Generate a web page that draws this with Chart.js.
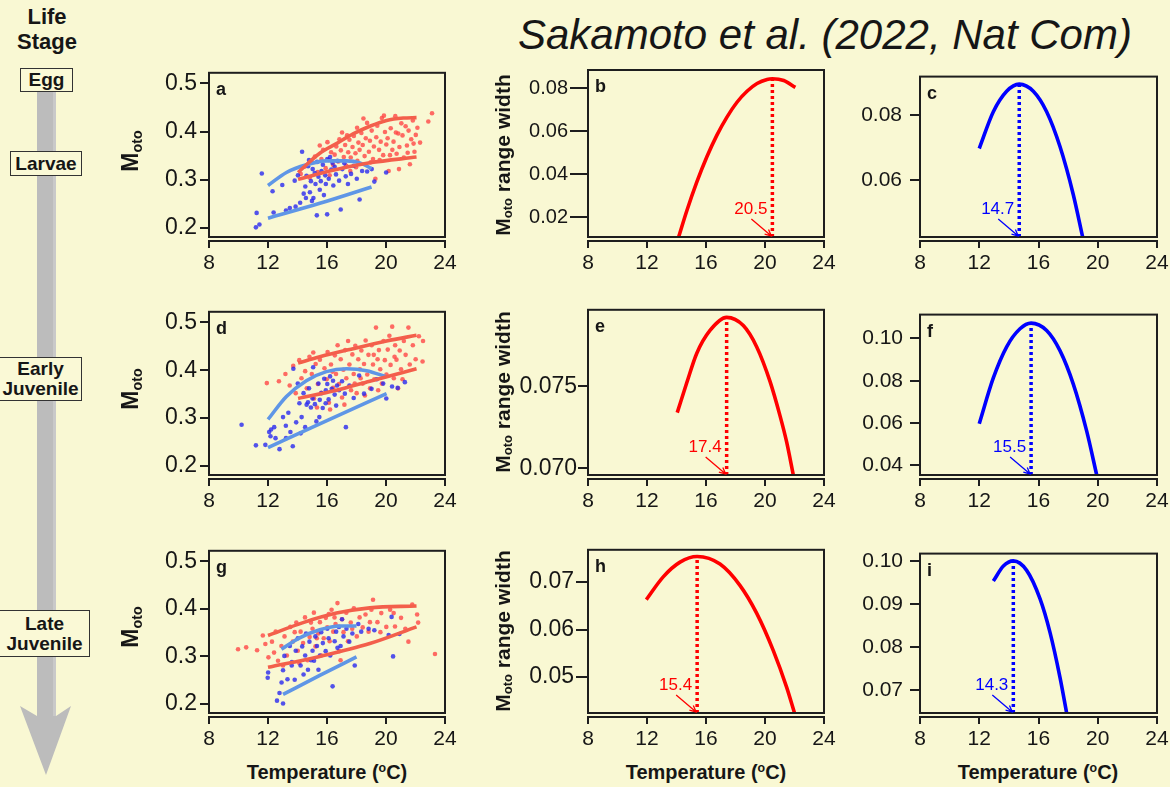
<!DOCTYPE html>
<html>
<head>
<meta charset="utf-8">
<title>Moto and temperature by life stage</title>
<script src="https://cdn.jsdelivr.net/npm/chart.js"></script>
<style>
  body { margin: 0; background: #f9f8d3; }
  #fig { position: relative; width: 1170px; height: 787px; overflow: hidden; background: #f9f8d3;
         font-family: 'Liberation Sans', Arial, sans-serif; color: #161616; }
  #fig canvas { position: absolute; }
  .ylab { position: absolute; white-space: nowrap; font-weight: bold; font-size: 21px;
          transform: translate(-50%, -50%) rotate(-90deg); }
  .ylab.big { font-size: 23px; }
  .ylab sub { font-size: 0.62em; vertical-align: -0.22em; }
  .xlab { position: absolute; white-space: nowrap; font-weight: bold; font-size: 20px;
          transform: translate(-50%, -50%); }
  .xlab sup { font-size: 0.62em; vertical-align: 0.55em; line-height: 0; }
  .title { position: absolute; left: 518px; top: 14px; font-size: 42px; font-style: italic;
           line-height: 1; white-space: nowrap; }
  .life { position: absolute; left: 0; top: 4px; width: 94px; text-align: center;
          font-weight: bold; font-size: 22px; line-height: 25px; }
  .stage { position: absolute; box-sizing: border-box; border: 1.5px solid #333; background: #faf9d6;
           font-weight: bold; font-size: 19px; line-height: 20px; text-align: center;
           display: flex; align-items: center; justify-content: center; z-index: 2; }
  #arrow { position: absolute; left: 0; top: 0; z-index: 1; }
</style>
</head>
<body>
<div id="fig">
  <svg id="arrow" width="100" height="787">
    <rect x="37" y="90" width="19" height="626" fill="#bcbcbc"/>
    <rect x="53" y="90" width="3" height="626" fill="#c9c9c9"/>
    <polygon points="37,716 20,706 46,775 71,706 56,716" fill="#bcbcbc"/>
  </svg>
  <div class="life">Life<br>Stage</div>
  <div class="stage" style="left:20px;top:68px;width:53px;height:24px;">Egg</div>
  <div class="stage" style="left:10px;top:151px;width:72px;height:25px;">Larvae</div>
  <div class="stage" style="left:-1px;top:357px;width:83px;height:44px;">Early<br>Juvenile</div>
  <div class="stage" style="left:-1px;top:610px;width:91px;height:47px;">Late<br>Juvenile</div>
  <div class="title">Sakamoto et al. (2022, Nat Com)</div>
</div>

<script>
// axis ticks
const tempTicks = [8, 12, 16, 20, 24];
const motoTicks = [0.2, 0.3, 0.4, 0.5];
const widthTicksB = [0.02, 0.04, 0.06, 0.08];
const widthTicksC = [0.06, 0.08];
const widthTicksE = [0.070, 0.075];
const widthTicksF = [0.04, 0.06, 0.08, 0.10];
const widthTicksH = [0.05, 0.06, 0.07];
const widthTicksI = [0.07, 0.08, 0.09, 0.10];

// Larvae: Moto observations [temperature, Moto]
const larvaeRed = [[14.22,0.312],[14.47,0.327],[14.83,0.304],[14.95,0.336],[15.18,0.348],[15.37,0.316],[15.62,0.343],[15.74,0.362],[15.91,0.324],[16.03,0.378],[16.12,0.341],[16.28,0.357],[16.41,0.331],[16.52,0.352],[16.63,0.369],[16.77,0.338],[16.94,0.361],[17.02,0.398],[17.14,0.347],[17.23,0.372],[17.31,0.329],[17.44,0.357],[17.52,0.383],[17.61,0.346],[17.73,0.368],[17.82,0.391],[17.93,0.355],[18.04,0.408],[18.06,0.339],[18.13,0.377],[18.21,0.362],[18.33,0.397],[18.42,0.372],[18.55,0.349],[18.63,0.386],[18.72,0.418],[18.84,0.358],[18.91,0.381],[19.03,0.402],[19.12,0.343],[19.18,0.369],[19.34,0.388],[19.41,0.412],[19.53,0.362],[19.64,0.379],[19.72,0.428],[19.81,0.351],[19.93,0.399],[20.02,0.373],[20.11,0.386],[20.18,0.318],[20.32,0.407],[20.43,0.362],[20.51,0.379],[20.63,0.432],[20.72,0.354],[20.83,0.396],[20.91,0.368],[21.04,0.417],[21.12,0.392],[21.21,0.346],[21.33,0.411],[21.42,0.371],[21.53,0.402],[21.62,0.332],[21.71,0.384],[21.82,0.423],[21.93,0.358],[22.02,0.393],[22.13,0.408],[22.31,0.377],[22.87,0.421],[23.12,0.438],[19.28,0.302],[20.88,0.322],[16.18,0.309],[17.58,0.318],[18.47,0.427],[19.86,0.433],[17.36,0.392],[16.84,0.384],[20.27,0.351],[21.47,0.356],[18.96,0.336],[17.97,0.326],[15.51,0.371],[19.57,0.341],[20.67,0.398],[21.87,0.375]];
const larvaeBlue = [[11.18,0.201],[11.42,0.207],[11.23,0.231],[11.58,0.313],[12.31,0.276],[12.38,0.232],[12.97,0.289],[13.22,0.236],[13.48,0.241],[13.87,0.244],[14.18,0.252],[14.31,0.358],[14.42,0.271],[14.53,0.286],[14.61,0.308],[14.72,0.328],[14.84,0.274],[14.91,0.297],[15.03,0.322],[15.08,0.262],[15.22,0.291],[15.31,0.226],[15.33,0.337],[15.42,0.306],[15.51,0.279],[15.63,0.318],[15.72,0.331],[15.79,0.268],[15.88,0.309],[16.01,0.228],[16.02,0.343],[16.12,0.302],[16.21,0.347],[16.29,0.321],[16.43,0.288],[16.52,0.327],[16.61,0.311],[16.82,0.298],[16.93,0.238],[17.04,0.322],[17.18,0.334],[17.42,0.291],[17.63,0.312],[17.81,0.329],[18.02,0.302],[18.21,0.259],[18.38,0.318],[18.72,0.317],[19.03,0.322],[19.21,0.296],[20.01,0.315],[14.03,0.309],[14.57,0.262],[14.98,0.256],[13.81,0.298],[15.17,0.314],[15.92,0.291],[16.37,0.335],[14.78,0.341],[15.58,0.297],[16.71,0.339],[17.27,0.307]];
// Larvae: upper / lower fitted Moto limits
const larvaeRedUpper = [[14.04,0.315],[15.51,0.355],[16.64,0.375],[17.77,0.395],[18.9,0.411],[20.04,0.423],[21.17,0.428],[22.07,0.429]];
const larvaeRedLower = [[14.04,0.301],[16.64,0.321],[18.9,0.335],[22.07,0.347]];
const larvaeBlueUpper = [[12.0,0.288],[13.25,0.315],[14.6,0.331],[15.96,0.339],[17.32,0.339],[18.23,0.335],[19.02,0.323]];
const larvaeBlueLower = [[12.0,0.220],[15.51,0.251],[19.02,0.285]];

// Early juvenile
const earlyRed = [[11.92,0.373],[12.74,0.377],[13.18,0.392],[13.47,0.368],[13.71,0.409],[13.88,0.352],[14.12,0.421],[14.27,0.383],[14.52,0.398],[14.63,0.362],[14.81,0.428],[14.97,0.392],[15.12,0.341],[15.23,0.413],[15.38,0.371],[15.52,0.422],[15.61,0.353],[15.83,0.404],[15.98,0.381],[16.04,0.438],[16.13,0.332],[16.27,0.412],[16.42,0.363],[16.53,0.431],[16.61,0.392],[16.72,0.452],[16.81,0.371],[16.93,0.423],[17.02,0.343],[17.11,0.401],[17.23,0.442],[17.31,0.383],[17.43,0.461],[17.52,0.412],[17.63,0.358],[17.72,0.433],[17.81,0.392],[17.92,0.451],[18.01,0.352],[18.12,0.423],[18.23,0.402],[18.33,0.441],[18.42,0.372],[18.51,0.413],[18.62,0.462],[18.73,0.391],[18.81,0.432],[18.92,0.362],[19.03,0.452],[19.12,0.412],[19.21,0.381],[19.32,0.489],[19.43,0.423],[19.52,0.442],[19.61,0.402],[19.72,0.372],[19.83,0.461],[19.92,0.421],[20.03,0.391],[20.12,0.443],[20.23,0.472],[20.31,0.411],[20.42,0.491],[20.53,0.383],[20.62,0.452],[20.71,0.422],[20.82,0.362],[20.93,0.441],[21.02,0.402],[21.21,0.461],[21.33,0.432],[21.52,0.489],[21.61,0.412],[21.82,0.452],[22.01,0.423],[22.23,0.471],[22.51,0.461],[22.48,0.418],[15.32,0.322],[16.21,0.318],[17.18,0.328],[18.57,0.347],[19.47,0.358],[17.88,0.372],[16.37,0.397],[15.07,0.437],[21.12,0.381],[20.58,0.428],[19.17,0.432],[18.28,0.383]];
const earlyBlue = [[10.21,0.286],[11.18,0.243],[11.82,0.244],[12.08,0.271],[12.21,0.276],[12.17,0.262],[12.42,0.281],[12.78,0.235],[13.02,0.302],[13.21,0.284],[13.38,0.311],[13.52,0.271],[13.68,0.241],[13.72,0.403],[13.91,0.291],[14.02,0.372],[14.13,0.331],[14.28,0.302],[14.41,0.352],[14.52,0.281],[14.62,0.328],[14.78,0.362],[14.91,0.322],[15.02,0.341],[15.06,0.406],[15.18,0.329],[15.28,0.293],[15.42,0.372],[15.51,0.338],[15.62,0.352],[15.71,0.321],[15.81,0.382],[15.92,0.358],[16.02,0.371],[16.11,0.339],[16.21,0.387],[16.32,0.361],[16.41,0.378],[16.52,0.349],[16.68,0.368],[16.82,0.358],[17.02,0.377],[17.21,0.351],[17.28,0.281],[17.52,0.368],[17.81,0.342],[18.18,0.389],[18.51,0.351],[19.02,0.361],[19.38,0.381],[19.81,0.372],[20.02,0.341],[20.41,0.366],[20.79,0.363],[21.28,0.375],[15.48,0.302],[14.22,0.268],[14.71,0.333],[15.91,0.331],[16.62,0.326],[13.22,0.258],[12.51,0.258]];
const earlyRedUpper = [[14.04,0.415],[15.51,0.428],[17.77,0.445],[20.04,0.461],[22.07,0.473]];
const earlyRedLower = [[14.04,0.341],[16.64,0.358],[18.9,0.377],[22.07,0.403]];
const earlyBlueUpper = [[12.0,0.297],[13.25,0.345],[14.6,0.378],[15.96,0.397],[17.32,0.403],[18.68,0.399],[20.04,0.386]];
const earlyBlueLower = [[12.0,0.238],[15.51,0.288],[20.04,0.351]];

// Late juvenile
const lateRed = [[9.97,0.315],[10.52,0.319],[11.26,0.313],[11.65,0.344],[11.82,0.326],[12.03,0.298],[12.27,0.331],[12.52,0.352],[12.68,0.291],[12.91,0.322],[13.12,0.342],[13.28,0.302],[13.51,0.362],[13.68,0.331],[13.92,0.371],[14.02,0.312],[14.21,0.352],[14.38,0.328],[14.51,0.382],[14.68,0.292],[14.82,0.341],[15.02,0.358],[15.11,0.392],[15.22,0.321],[15.41,0.348],[15.52,0.372],[15.61,0.302],[15.78,0.338],[15.92,0.381],[16.02,0.361],[16.18,0.332],[16.31,0.398],[16.42,0.352],[16.58,0.368],[16.71,0.412],[16.82,0.311],[17.02,0.378],[17.12,0.351],[17.31,0.392],[17.42,0.332],[17.61,0.371],[17.82,0.401],[18.02,0.342],[18.21,0.382],[18.42,0.361],[18.61,0.388],[18.82,0.352],[19.01,0.398],[19.12,0.419],[19.42,0.372],[19.68,0.391],[20.02,0.362],[20.28,0.398],[20.61,0.363],[21.02,0.381],[21.52,0.331],[21.78,0.409],[22.11,0.388],[22.18,0.371],[23.32,0.305],[13.02,0.281],[14.12,0.286],[16.92,0.292],[12.41,0.308],[13.81,0.351],[15.31,0.338],[16.51,0.382],[17.71,0.358],[18.91,0.372],[20.52,0.391],[21.31,0.358],[14.91,0.371],[16.12,0.389],[19.62,0.351]];
const lateBlue = [[12.01,0.266],[11.98,0.255],[12.61,0.207],[13.02,0.201],[12.78,0.223],[12.92,0.245],[13.11,0.301],[13.02,0.271],[13.32,0.252],[13.48,0.322],[13.62,0.288],[13.81,0.251],[13.88,0.312],[14.02,0.338],[14.21,0.281],[14.32,0.321],[14.52,0.302],[14.58,0.348],[14.71,0.272],[14.81,0.331],[15.02,0.312],[15.12,0.291],[15.21,0.342],[15.32,0.322],[15.52,0.302],[15.61,0.351],[15.72,0.328],[15.91,0.311],[16.02,0.358],[16.11,0.338],[16.22,0.302],[16.38,0.237],[16.52,0.332],[16.62,0.352],[16.81,0.362],[16.92,0.322],[17.02,0.378],[17.12,0.342],[17.32,0.358],[17.51,0.331],[17.72,0.348],[17.88,0.281],[18.12,0.368],[18.32,0.352],[18.82,0.358],[19.21,0.355],[20.18,0.345],[20.38,0.383],[20.48,0.300],[20.91,0.347],[14.41,0.262],[15.42,0.272],[13.61,0.281],[14.92,0.292],[16.71,0.318]];
const lateRedUpper = [[12.0,0.344],[14.38,0.371],[16.64,0.391],[18.9,0.402],[22.07,0.406]];
const lateRedLower = [[12.0,0.277],[15.51,0.300],[18.9,0.327],[22.07,0.362]];
const lateBlueUpper = [[12.91,0.315],[14.15,0.339],[15.51,0.356],[16.87,0.364],[18.0,0.364]];
const lateBlueLower = [[13.02,0.220],[15.51,0.260],[18.0,0.299]];

// Moto range width against temperature, with the temperature of the maximum
const widthB = [[14.15,0.011],[14.70,0.0231],[15.38,0.0365],[16.06,0.0482],[16.74,0.0583],[17.42,0.0667],[18.10,0.0736],[18.78,0.0787],[19.46,0.0823],[20.14,0.0842],[20.5,0.0845],[21.27,0.0837],[22.06,0.0805]];
const widthC = [[12.0,0.0698],[12.95,0.0811],[13.85,0.0874],[14.7,0.0896],[15.65,0.0874],[16.55,0.0811],[17.45,0.0704],[18.35,0.0556],[18.98,0.0426]];
const widthE = [[14.05,0.0734],[14.69,0.0752],[15.37,0.0770],[16.27,0.0784],[17.4,0.0792],[18.53,0.0787],[19.44,0.0774],[20.34,0.0753],[21.02,0.0732],[21.47,0.0716],[21.92,0.0696]];
const widthF = [[12.0,0.0597],[12.95,0.0813],[13.85,0.0960],[14.75,0.1045],[15.5,0.1072],[16.55,0.1037],[17.45,0.0942],[18.35,0.0784],[19.25,0.0563],[19.93,0.0355]];
const widthH = [[11.95,0.0663],[13.1,0.0711],[14.24,0.0742],[15.4,0.0754],[16.95,0.0738],[18.3,0.0693],[19.44,0.0634],[20.57,0.0555],[21.47,0.0478],[22.0,0.0424]];
const widthI = [[12.95,0.0953],[13.63,0.0988],[14.3,0.1000],[15.2,0.0978],[16.1,0.0912],[16.78,0.0833],[17.45,0.0729],[17.9,0.0646]];
const peakB = [20.5, 0.0845];
const peakC = [14.7, 0.0896];
const peakE = [17.4, 0.0792];
const peakF = [15.5, 0.1072];
const peakH = [15.4, 0.0754];
const peakI = [14.3, 0.1000];

const FONT = "'Liberation Sans', Arial, sans-serif";
const INK = '#161616';
const dotRed = 'rgba(255,70,70,0.8)', dotBlue = 'rgba(40,40,240,0.8)';
const fitRed = 'rgb(243,95,75)', fitBlue = 'rgb(95,150,230)';
const RED = '#ff0000', BLUE = '#0000ff';

// plot box placement on the page
const colLeft = [209, 588, 920], colWidth = [236, 236, 237];
const rowTop = [66, 305, 544], rowHeight = [171, 170, 169];
const PAD_L = 74, PAD_T = 10, PAD_R = 16, PAD_B = 45;

Chart.defaults.font.family = FONT;
Chart.defaults.color = INK;

// draws the box, y ticks, a detached x axis, the panel letter and the peak note
const framePlugin = {
  id: 'frame',
  afterDraw(chart, args, opts) {
    const { ctx, chartArea: a, scales: { x, y } } = chart;
    ctx.save();
    ctx.strokeStyle = '#1e1e1e';
    ctx.lineWidth = 2;
    ctx.strokeRect(a.left, a.top, a.right - a.left, a.bottom - a.top);
    ctx.beginPath();
    y.ticks.forEach(t => {
      const py = Math.round(y.getPixelForValue(t.value));
      ctx.moveTo(a.left - opts.tickLen, py);
      ctx.lineTo(a.left, py);
    });
    const ay = a.bottom + 4;
    ctx.moveTo(x.getPixelForValue(tempTicks[0]), ay);
    ctx.lineTo(x.getPixelForValue(tempTicks[tempTicks.length - 1]), ay);
    x.ticks.forEach(t => {
      const px = Math.round(x.getPixelForValue(t.value));
      ctx.moveTo(px, ay - 1);
      ctx.lineTo(px, ay + 7);
    });
    ctx.stroke();

    ctx.fillStyle = INK;
    ctx.font = 'bold 18px ' + FONT;
    ctx.textBaseline = 'alphabetic';
    ctx.fillText(opts.letter, a.left + 7, a.top + 22);

    if (opts.peak) {
      const px = x.getPixelForValue(opts.peak[0]);
      const b = a.bottom;
      ctx.fillStyle = opts.color;
      ctx.strokeStyle = opts.color;
      ctx.font = '17px ' + FONT;
      ctx.textAlign = 'right';
      ctx.fillText(opts.peak[0].toFixed(1), px - 5, b - 23);
      // arrow pointing at the axis
      const x0 = px - 21, y0 = b - 18, x1 = px - 1, y1 = b - 1;
      const ang = Math.atan2(y1 - y0, x1 - x0);
      ctx.lineWidth = 1.3;
      ctx.beginPath();
      ctx.moveTo(x0, y0);
      ctx.lineTo(x1, y1);
      ctx.moveTo(x1 - 7 * Math.cos(ang - 0.45), y1 - 7 * Math.sin(ang - 0.45));
      ctx.lineTo(x1, y1);
      ctx.lineTo(x1 - 7 * Math.cos(ang + 0.45), y1 - 7 * Math.sin(ang + 0.45));
      ctx.stroke();
    }
    ctx.restore();
  }
};

function curve(data, color, width) {
  return { data, showLine: true, borderColor: color, borderWidth: width, pointRadius: 0,
           cubicInterpolationMode: 'monotone', fill: false, clip: 0 };
}
function dots(data, color) {
  return { data, showLine: false, pointRadius: 2.3, pointBorderWidth: 0,
           backgroundColor: color, borderColor: color };
}

function makePanel(p) {
  const w = colWidth[p.col] + PAD_L + PAD_R, h = rowHeight[p.row] + PAD_T + PAD_B;
  const cv = document.createElement('canvas');
  cv.width = w; cv.height = h;
  cv.style.left = (colLeft[p.col] - PAD_L) + 'px';
  cv.style.top = (rowTop[p.row] - PAD_T) + 'px';
  document.getElementById('fig').appendChild(cv);

  let datasets;
  if (p.red) {
    datasets = [
      curve(p.fits[0], fitRed, 3.6), curve(p.fits[1], fitRed, 3.6),
      curve(p.fits[2], fitBlue, 3.6), curve(p.fits[3], fitBlue, 3.6),
      dots(p.blue, dotBlue), dots(p.red, dotRed)
    ];
  } else {
    const dotted = curve([[p.peak[0], p.yMin], p.peak], p.color, 3.5);
    dotted.borderDash = [3, 3];
    dotted.cubicInterpolationMode = 'default';
    datasets = [curve(p.width, p.color, 3.6), dotted];
  }

  new Chart(cv, {
    type: 'scatter',
    data: { datasets },
    plugins: [framePlugin],
    options: {
      responsive: false,
      animation: false,
      events: [],
      layout: { padding: { left: 0, top: PAD_T, right: PAD_R, bottom: 0 } },
      plugins: {
        legend: { display: false },
        tooltip: { enabled: false },
        frame: { letter: p.id, peak: p.peak, color: p.color, tickLen: p.tickLen }
      },
      scales: {
        x: {
          type: 'linear', min: 8, max: 24,
          afterBuildTicks: s => { s.ticks = tempTicks.map(v => ({ value: v })); },
          afterFit: s => { s.height = PAD_B; },
          grid: { display: false, drawTicks: true, tickLength: 10 },
          border: { display: false },
          ticks: { font: { size: 21 }, padding: 4, autoSkip: false, maxRotation: 0 }
        },
        y: {
          type: 'linear', min: p.yMin, max: p.yMax,
          afterBuildTicks: s => { s.ticks = p.yTicks.map(v => ({ value: v })); },
          afterFit: s => { s.width = PAD_L; },
          grid: { display: false, drawTicks: true, tickLength: p.tickLen },
          border: { display: false },
          ticks: { font: { size: p.tickSize }, padding: p.gap - p.tickLen, autoSkip: false,
                   callback: v => v.toFixed(p.dec) }
        }
      }
    }
  });
}

const panels = [
  { id: 'a', col: 0, row: 0, yMin: 0.181, yMax: 0.522, yTicks: motoTicks, dec: 1, tickSize: 23, tickLen: 9, gap: 12,
    red: larvaeRed, blue: larvaeBlue, fits: [larvaeRedUpper, larvaeRedLower, larvaeBlueUpper, larvaeBlueLower] },
  { id: 'd', col: 0, row: 1, yMin: 0.181, yMax: 0.522, yTicks: motoTicks, dec: 1, tickSize: 23, tickLen: 9, gap: 12,
    red: earlyRed, blue: earlyBlue, fits: [earlyRedUpper, earlyRedLower, earlyBlueUpper, earlyBlueLower] },
  { id: 'g', col: 0, row: 2, yMin: 0.181, yMax: 0.522, yTicks: motoTicks, dec: 1, tickSize: 23, tickLen: 9, gap: 12,
    red: lateRed, blue: lateBlue, fits: [lateRedUpper, lateRedLower, lateBlueUpper, lateBlueLower] },
  { id: 'b', col: 1, row: 0, yMin: 0.0109, yMax: 0.0886, yTicks: widthTicksB, dec: 2, tickSize: 20, tickLen: 18, gap: 20,
    width: widthB, peak: peakB, color: RED },
  { id: 'e', col: 1, row: 1, yMin: 0.0696, yMax: 0.07966, yTicks: widthTicksE, dec: 3, tickSize: 23, tickLen: 10, gap: 11,
    width: widthE, peak: peakE, color: RED },
  { id: 'h', col: 1, row: 2, yMin: 0.0424, yMax: 0.0768, yTicks: widthTicksH, dec: 2, tickSize: 23, tickLen: 12, gap: 14,
    width: widthH, peak: peakH, color: RED },
  { id: 'c', col: 2, row: 0, yMin: 0.0426, yMax: 0.0919, yTicks: widthTicksC, dec: 2, tickSize: 21, tickLen: 10, gap: 18,
    width: widthC, peak: peakC, color: BLUE },
  { id: 'f', col: 2, row: 1, yMin: 0.0355, yMax: 0.1112, yTicks: widthTicksF, dec: 2, tickSize: 21, tickLen: 10, gap: 17,
    width: widthF, peak: peakF, color: BLUE },
  { id: 'i', col: 2, row: 2, yMin: 0.0646, yMax: 0.1017, yTicks: widthTicksI, dec: 2, tickSize: 21, tickLen: 10, gap: 17,
    width: widthI, peak: peakI, color: BLUE }
];
panels.forEach(makePanel);

// axis titles
const fig = document.getElementById('fig');
function addLabel(cls, html, x, y) {
  const d = document.createElement('div');
  d.className = cls;
  d.innerHTML = html;
  d.style.left = x + 'px';
  d.style.top = y + 'px';
  fig.appendChild(d);
}
[151, 389, 627].forEach(cy => addLabel('ylab big', 'M<sub>oto</sub>', 131, cy));
[155, 392, 631].forEach(cy => addLabel('ylab', 'M<sub>oto</sub> range width', 503, cy));
[327, 706, 1038].forEach(cx => addLabel('xlab', 'Temperature (<sup>o</sup>C)', cx, 772));
</script>
</body>
</html>
